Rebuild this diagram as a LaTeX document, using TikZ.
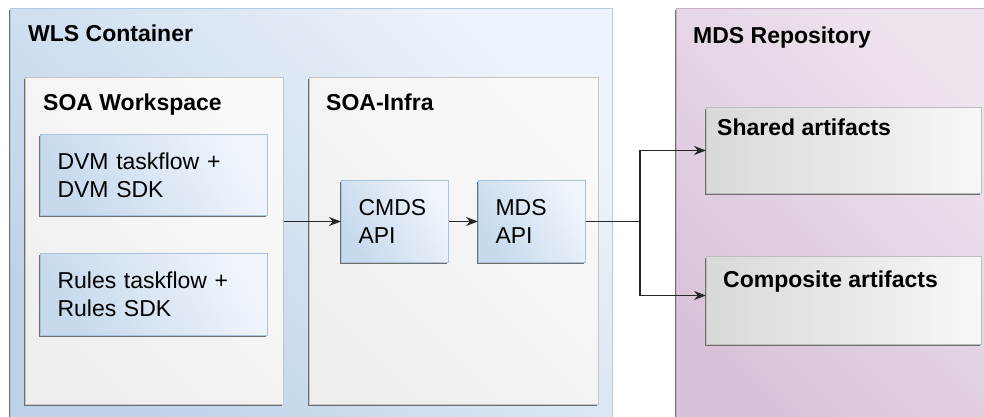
\documentclass[tikz,border=0pt]{standalone}
\usepackage{fontspec}
\setmainfont{Liberation Sans}
\usepackage{tikz}
\usetikzlibrary{positioning,shadows,arrows.meta}

\definecolor{wlsdark}{HTML}{BDD3EA}
\definecolor{wlslight}{HTML}{EDF3FA}
\definecolor{wlsedge}{HTML}{B3CAE3}
\definecolor{paneldark}{HTML}{EFEFEF}
\definecolor{panellight}{HTML}{F9F9F9}
\definecolor{paneledge}{HTML}{C4C4C4}
\definecolor{moddark}{HTML}{C6D9ED}
\definecolor{modlight}{HTML}{F0F5FB}
\definecolor{modedge}{HTML}{A9C2DD}
\definecolor{mdsdark}{HTML}{D9C2D9}
\definecolor{mdslight}{HTML}{EEE4EE}
\definecolor{mdsedge}{HTML}{C8B0C8}
\definecolor{artdark}{HTML}{D9D9D9}
\definecolor{artlight}{HTML}{F7F7F7}
\definecolor{artedge}{HTML}{BDBDBD}
\definecolor{shadowgray}{HTML}{6E6E6E}

\begin{document}
\begin{tikzpicture}[
        x=1pt, y=1pt,
        font=\fontsize{23}{28}\selectfont,
        edgeshadow/.style={general shadow={fill=shadowgray, shadow xshift=-1.6pt, shadow yshift=-1.6pt}},
        container/.style={rectangle, draw=#1edge, line width=1pt, top color=#1light, bottom color=#1dark, shading angle=-45, edgeshadow, inner sep=0pt},
        panel/.style={rectangle, draw=paneledge, line width=1pt, top color=panellight, bottom color=paneldark, shading angle=-45, edgeshadow, inner sep=0pt},
        module/.style={rectangle, draw=modedge, line width=1pt, top color=modlight, bottom color=moddark, shading angle=-60, edgeshadow, inner xsep=17pt, inner ysep=0pt, align=left},
        artbox/.style={rectangle, draw=artedge, line width=1pt, left color=artdark, right color=artlight, edgeshadow, inner sep=0pt, minimum width=275pt},
        title/.style={anchor=north west, inner sep=0pt, font=\fontsize{23}{28}\selectfont\bfseries},
        wire/.style={line width=1.4pt, draw=black!85},
        arrow/.style={wire, -{Stealth[length=12pt, width=9pt]}}
    ]
    \useasboundingbox (0,0) rectangle (984,-417);

    % WLS container
    \node[container=wls, anchor=north west, minimum width=602pt, minimum height=414pt] (wls) at (10,-8) {};
    \node[title, below right=17pt and 18pt of wls.north west] (wlsT) {WLS Container};

    % SOA workspace
    \node[panel, below right=69pt and 15pt of wls.north west, minimum width=258pt, minimum height=327pt] (soaws) {};
    \node[title, below right=17pt and 18pt of soaws.north west] (soawsT) {SOA Workspace};
    \node[module, below right=57pt and 15pt of soaws.north west, text width=193pt, minimum height=81pt] (dvm) {DVM taskflow +\\DVM SDK};
    \node[module, below=37pt of dvm, text width=193pt, minimum height=82pt] (rules) {Rules taskflow +\\Rules SDK};

    % SOA infra
    \node[panel, right=25pt of soaws, minimum width=289pt, minimum height=327pt] (soainfra) {};
    \node[title, below right=17pt and 17pt of soainfra.north west] (soainfraT) {SOA-Infra};
    \node[module, below right=103pt and 32pt of soainfra.north west, text width=73pt, minimum height=82pt] (cmds) {CMDS\\API};
    \node[module, right=29pt of cmds, text width=73pt, minimum height=82pt] (mdsapi) {MDS\\API};

    % MDS repository
    \node[container=mds, anchor=north west, minimum width=315pt, minimum height=414pt, below right=0pt and 63pt of wls.north east] (mdsrepo) {};
    \node[title, below right=19pt and 17pt of mdsrepo.north west] (mdsrepoT) {MDS Repository};
    \node[artbox, below right=99pt and 30pt of mdsrepo.north west, minimum height=86pt] (shared) {};
    \node[title, below right=12pt and 11pt of shared.north west] (sharedT) {Shared artifacts};
    \node[artbox, below=62pt of shared, minimum height=88pt] (composite) {};
    \node[title, below right=15pt and 17pt of composite.north west] (compositeT) {Composite artifacts};

    % Connectors
    \coordinate[right=54pt of mdsapi.east] (split);
    \draw[arrow] (soaws.east |- cmds.west) -- (cmds.west);
    \draw[arrow] (cmds.east) -- (mdsapi.west);
    \draw[wire] (mdsapi.east) -- (split);
    \draw[arrow] (split) |- (shared.west);
    \draw[arrow] (split) |- ([yshift=5pt]composite.west);

\end{tikzpicture}
\end{document}
